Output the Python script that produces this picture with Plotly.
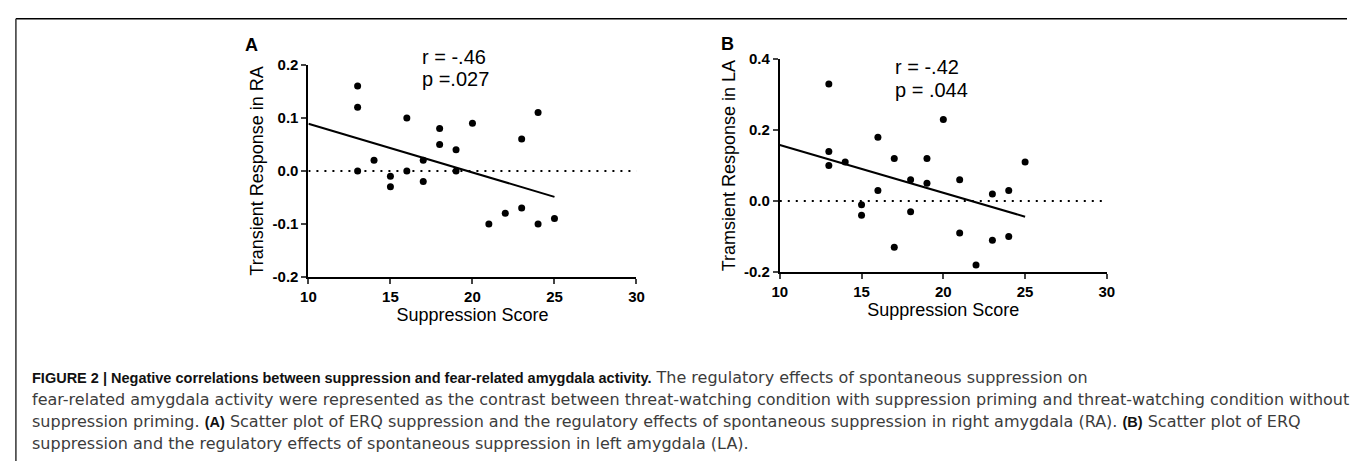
import plotly.graph_objects as go

W, H = 1355, 469

# Panel A data (Suppression score vs transient response in RA)
a_x = [13, 13, 13, 14, 15, 15, 16, 16, 17, 17, 18, 18, 19, 19, 20, 21, 22, 23, 23, 24, 24, 25]
a_y = [0.16, 0.12, 0.00, 0.02, -0.01, -0.03, 0.10, 0.00, 0.02, -0.02, 0.08, 0.05, 0.04, 0.00,
       0.09, -0.10, -0.08, 0.06, -0.07, 0.11, -0.10, -0.09]
a_fit_x = [10, 25]
a_fit_y = [0.089, -0.049]

# Panel B data (Suppression score vs transient response in LA)
b_x = [13, 13, 13, 14, 15, 15, 16, 16, 17, 17, 18, 18, 19, 19, 20, 21, 21, 22, 23, 23, 24, 24, 25]
b_y = [0.33, 0.14, 0.10, 0.11, -0.01, -0.04, 0.18, 0.03, 0.12, -0.13, 0.06, -0.03, 0.12, 0.05,
       0.23, 0.06, -0.09, -0.18, 0.02, -0.11, 0.03, -0.10, 0.11]
b_fit_x = [10, 25]
b_fit_y = [0.158, -0.044]

ref_x = [10, 30]
ref_y = [0, 0]

x_ticks = [10, 15, 20, 25, 30]
a_ticks = [-0.2, -0.1, 0.0, 0.1, 0.2]
b_ticks = [-0.2, 0.0, 0.2, 0.4]


def px(X):
    return X / W


def py(Y):
    return 1 - Y / H


fig = go.Figure()


def add_panel(xs, ys, fx, fy, xa, ya):
    fig.add_trace(go.Scatter(x=ref_x, y=ref_y, mode="lines", xaxis=xa, yaxis=ya,
                             line=dict(color="black", width=2, dash="2px,6px"), showlegend=False))
    fig.add_trace(go.Scatter(x=fx, y=fy, mode="lines", xaxis=xa, yaxis=ya,
                             line=dict(color="black", width=2), showlegend=False))
    fig.add_trace(go.Scatter(x=xs, y=ys, mode="markers", xaxis=xa, yaxis=ya,
                             marker=dict(color="black", size=7), showlegend=False, cliponaxis=False))


add_panel(a_x, a_y, a_fit_x, a_fit_y, "x", "y")
add_panel(b_x, b_y, b_fit_x, b_fit_y, "x2", "y2")

FONT = "Liberation Sans, Arial, sans-serif"
tickfont = dict(family=FONT, size=15, color="black", weight="bold")
titlefont = dict(family=FONT, size=18, color="black")


def xaxis(dom, anchor):
    return dict(domain=dom, anchor=anchor, range=[10, 30], tickvals=x_ticks, ticks="outside",
                ticklen=5, tickwidth=2, showline=True, linewidth=2, linecolor="black",
                showgrid=False, zeroline=False, tickfont=tickfont,
                title=dict(text="Suppression Score", font=titlefont, standoff=2))


def yaxis(dom, anchor, rng, tv, title):
    return dict(domain=dom, anchor=anchor, range=rng, tickvals=tv,
                ticktext=[f"{v:.1f}" for v in tv], ticks="outside",
                ticklen=5, tickwidth=2, showline=True, linewidth=2, linecolor="black",
                showgrid=False, zeroline=False, tickfont=tickfont,
                title=dict(text=title, font=titlefont, standoff=4))


fig.update_layout(
    width=W, height=H, autosize=False,
    margin=dict(l=0, r=0, t=0, b=0),
    paper_bgcolor="white", plot_bgcolor="white",
    xaxis=xaxis([px(304), px(636)], "y"),
    yaxis=yaxis([py(278), py(58)], "x", [-0.2, 0.2], a_ticks, "Transient Response in RA"),
    xaxis2=xaxis([px(781), px(1112)], "y2"),
    yaxis2=yaxis([py(273), py(52)], "x2", [-0.2, 0.4], b_ticks, "Tramsient Response in LA"),
    font=dict(family=FONT),
)


def px_ann(text, x, y, size, bold=False):
    fig.add_annotation(text=text, xref="paper", yref="paper", x=px(x), y=py(y),
                       xanchor="left", yanchor="middle", showarrow=False,
                       font=dict(family=FONT, size=size, color="black",
                                 weight="bold" if bold else "normal"))


px_ann("A", 238, 37, 18, bold=True)
px_ann("r = -.46", 417, 50, 20)
px_ann("p =.027", 417, 73, 20)
px_ann("B", 720, 36, 18, bold=True)
px_ann("r = -.42", 896, 60, 20)
px_ann("p = .044", 896, 84, 20)

cap_color = "#3c3c3c"
B0 = '<span style="font-family:Liberation Sans, Arial;font-weight:bold;font-size:14.5px;fill:#111">'
B1 = "</span>"
caption = [
    B0 + "FIGURE 2 | Negative correlations between suppression and fear-related amygdala activity." + B1
    + " The regulatory effects of spontaneous suppression on",
    "fear-related amygdala activity were represented as the contrast between threat-watching condition "
    "with suppression priming and threat-watching condition without",
    "suppression priming. " + B0 + "(A)" + B1 + " Scatter plot of ERQ suppression and the regulatory effects of "
    "spontaneous suppression in right amygdala (RA). " + B0 + "(B)" + B1 + " Scatter plot of ERQ",
    "suppression and the regulatory effects of spontaneous suppression in left amygdala (LA).",
]
for i, line in enumerate(caption):
    fig.add_annotation(text=line, xref="paper", yref="paper", x=px(22), y=py(382 + 23 * i),
                       xanchor="left", yanchor="middle", showarrow=False, align="left",
                       font=dict(family="DejaVu Sans, sans-serif", size=16, color=cap_color))

# frame lines (top rule and left rule)
fig.add_shape(type="line", xref="paper", yref="paper", x0=px(8), x1=1, y0=py(10), y1=py(10),
              line=dict(color="black", width=1.5))
fig.add_shape(type="line", xref="paper", yref="paper", x0=px(8), x1=px(8), y0=0, y1=py(10),
              line=dict(color="#333333", width=1.5))

fig.write_html("out.html", config={"displayModeBar": False},
               post_script="document.body.style.margin='0';document.body.style.overflow='hidden';")
